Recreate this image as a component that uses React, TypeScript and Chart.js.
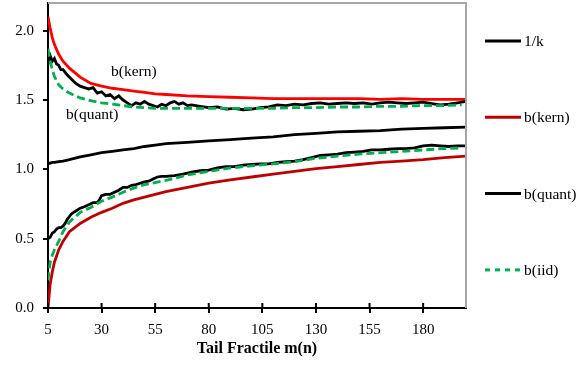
import React, { useEffect, useRef } from "react";
import { Chart, registerables } from "chart.js";

Chart.register(...registerables);

// ---- data ----
const X_TICKS = [5, 30, 55, 80, 105, 130, 155, 180];
const Y_TICKS = [0, 0.5, 1.0, 1.5, 2.0];

const X_SMOOTH = [5, 6, 7, 8, 10, 12, 15, 20, 25, 30, 35, 40, 45, 50, 55, 60, 70, 80, 90, 100, 110, 120, 130, 140, 150, 160, 170, 180, 190, 200];

const INV_K = [1.04, 1.045, 1.05, 1.05, 1.055, 1.06, 1.07, 1.09, 1.105, 1.12, 1.13, 1.14, 1.15, 1.165, 1.175, 1.185, 1.195, 1.205, 1.215, 1.225, 1.235, 1.25, 1.26, 1.27, 1.275, 1.28, 1.29, 1.295, 1.3, 1.305];

const KERN_HI = [2.1, 2.02, 1.95, 1.9, 1.83, 1.78, 1.73, 1.665, 1.62, 1.6, 1.585, 1.575, 1.565, 1.555, 1.545, 1.54, 1.53, 1.525, 1.52, 1.515, 1.51, 1.51, 1.51, 1.51, 1.51, 1.505, 1.51, 1.505, 1.505, 1.505];

const KERN_LO = [0.0, 0.17, 0.26, 0.33, 0.42, 0.48, 0.55, 0.61, 0.655, 0.69, 0.72, 0.755, 0.78, 0.8, 0.82, 0.84, 0.87, 0.9, 0.925, 0.945, 0.965, 0.985, 1.005, 1.02, 1.035, 1.05, 1.06, 1.07, 1.085, 1.095];

const X_QUANT_HI = [5, 6, 7, 8, 9, 10, 11, 12, 14, 16, 18, 20, 22, 24, 26, 28, 30, 32, 34, 36, 38, 40, 42, 44, 46, 48, 50, 52, 54, 56, 58, 60, 62, 64, 66, 68, 70, 72, 76, 80, 84, 88, 92, 96, 100, 104, 108, 112, 116, 120, 124, 128, 132, 136, 140, 144, 148, 152, 156, 160, 164, 168, 172, 176, 180, 184, 188, 192, 196, 200];
const QUANT_HI = [1.76, 1.82, 1.78, 1.8, 1.76, 1.75, 1.72, 1.72, 1.68, 1.65, 1.62, 1.6, 1.59, 1.58, 1.59, 1.55, 1.56, 1.53, 1.54, 1.51, 1.53, 1.5, 1.48, 1.46, 1.48, 1.47, 1.49, 1.47, 1.46, 1.45, 1.47, 1.46, 1.48, 1.49, 1.47, 1.48, 1.46, 1.465, 1.455, 1.445, 1.45, 1.435, 1.44, 1.43, 1.435, 1.445, 1.45, 1.465, 1.46, 1.47, 1.465, 1.475, 1.48, 1.47, 1.475, 1.48, 1.475, 1.48, 1.47, 1.48, 1.485, 1.48, 1.475, 1.48, 1.485, 1.475, 1.465, 1.47, 1.48, 1.49];

const X_QUANT_LO = [5, 6, 7, 8, 9, 10, 11, 12, 13, 14, 15, 16, 17, 18, 20, 22, 24, 26, 28, 29, 30, 32, 34, 36, 38, 40, 42, 44, 46, 48, 50, 52, 54, 56, 58, 60, 64, 68, 72, 76, 80, 84, 88, 92, 96, 100, 104, 108, 112, 116, 120, 124, 128, 132, 136, 140, 144, 148, 152, 156, 160, 164, 168, 172, 176, 180, 184, 188, 192, 196, 200];
const QUANT_LO = [0.5, 0.51, 0.54, 0.55, 0.57, 0.58, 0.58, 0.59, 0.61, 0.64, 0.66, 0.68, 0.69, 0.7, 0.72, 0.73, 0.745, 0.76, 0.76, 0.78, 0.81, 0.82, 0.82, 0.835, 0.85, 0.87, 0.87, 0.885, 0.89, 0.9, 0.91, 0.915, 0.93, 0.945, 0.95, 0.95, 0.955, 0.965, 0.98, 0.99, 0.995, 1.01, 1.02, 1.02, 1.03, 1.035, 1.04, 1.04, 1.05, 1.055, 1.06, 1.07, 1.085, 1.1, 1.105, 1.11, 1.12, 1.125, 1.13, 1.14, 1.14, 1.145, 1.15, 1.15, 1.155, 1.17, 1.175, 1.17, 1.165, 1.17, 1.17];

const X_IID = [5, 6, 7, 8, 10, 12, 15, 20, 25, 30, 35, 40, 45, 50, 55, 60, 70, 80, 90, 100, 110, 120, 130, 140, 150, 160, 170, 180, 190, 198];
const IID_HI = [1.87, 1.78, 1.72, 1.67, 1.61, 1.58, 1.55, 1.515, 1.495, 1.48, 1.47, 1.46, 1.45, 1.445, 1.44, 1.44, 1.44, 1.44, 1.44, 1.44, 1.44, 1.445, 1.445, 1.45, 1.45, 1.455, 1.455, 1.46, 1.46, 1.465];
const IID_LO = [0.2, 0.33, 0.38, 0.42, 0.48, 0.55, 0.62, 0.69, 0.725, 0.77, 0.8, 0.835, 0.865, 0.89, 0.905, 0.92, 0.96, 0.985, 1.01, 1.025, 1.04, 1.055, 1.08, 1.095, 1.11, 1.12, 1.13, 1.14, 1.15, 1.155];

const LEGEND_LABELS = ["1/k", "b(kern)", "b(quant)", "b(iid)"];
const X_TITLE = "Tail Fractile m(n)";

// ---- styles ----
const FONT = "'Liberation Serif', 'Times New Roman', serif";
const BLACK = "#000000";
const RED_HI = "#FF0000";
const RED_LO = "#C00000";
const GREEN = "#00B050";
const DASH = [8, 4];

const LEGEND_STYLES = [
  { color: BLACK, dash: [] as number[] },
  { color: RED_LO, dash: [] as number[] },
  { color: BLACK, dash: [] as number[] },
  { color: GREEN, dash: [5, 5] },
];

const ANNOTATIONS = [
  { text: "b(kern)", x: 34.4, y: 1.67 },
  { text: "b(quant)", x: 13.4, y: 1.365 },
];

const pts = (xs: number[], ys: number[]) => xs.map((x, i) => ({ x, y: ys[i] }));

const decorPlugin = {
  id: "decor",
  afterDraw(chart: any) {
    const { ctx, chartArea, scales } = chart;
    const { left, right, top, bottom } = chartArea;
    ctx.save();
    // gray frame top / right
    ctx.strokeStyle = "#a6a6a6";
    ctx.lineWidth = 2;
    ctx.beginPath();
    ctx.moveTo(left, top);
    ctx.lineTo(right, top);
    ctx.lineTo(right, bottom);
    ctx.stroke();
    // inner x tick marks
    ctx.strokeStyle = BLACK;
    ctx.lineWidth = 2;
    X_TICKS.forEach((v) => {
      const px = scales.x.getPixelForValue(v);
      ctx.beginPath();
      ctx.moveTo(px, bottom);
      ctx.lineTo(px, bottom - 5);
      ctx.stroke();
    });
    // annotations
    ctx.fillStyle = BLACK;
    ctx.font = `15.5px ${FONT}`;
    ctx.textBaseline = "alphabetic";
    ctx.textAlign = "left";
    ANNOTATIONS.forEach((a) => {
      ctx.fillText(a.text, scales.x.getPixelForValue(a.x), scales.y.getPixelForValue(a.y));
    });
    // legend
    const lx = right + 19;
    const ly0 = top + 38;
    const gap = 76.3;
    LEGEND_LABELS.forEach((lab, i) => {
      const y = ly0 + i * gap;
      const st = LEGEND_STYLES[i];
      ctx.strokeStyle = st.color;
      ctx.lineWidth = 3;
      ctx.setLineDash(st.dash);
      ctx.beginPath();
      ctx.moveTo(lx, y);
      ctx.lineTo(lx + 36, y);
      ctx.stroke();
      ctx.setLineDash([]);
      ctx.fillStyle = BLACK;
      ctx.textBaseline = "middle";
      ctx.fillText(lab, lx + 39, y + 1);
    });
    ctx.restore();
  },
};

export default function App() {
  const ref = useRef<HTMLCanvasElement | null>(null);

  useEffect(() => {
    if (!ref.current) return;
    const line = (data: any, color: string, order: number, dash: number[] = []) => ({
      data,
      borderColor: color,
      backgroundColor: color,
      borderWidth: 2.8,
      borderDash: dash,
      pointRadius: 0,
      tension: 0,
      fill: false,
      order,
    });
    const chart = new Chart(ref.current, {
      type: "line",
      data: {
        datasets: [
          { label: "1/k", ...line(pts(X_SMOOTH, INV_K), BLACK, 3) },
          { label: "b(kern) hi", ...line(pts(X_SMOOTH, KERN_HI), RED_HI, 3) },
          { label: "b(kern) lo", ...line(pts(X_SMOOTH, KERN_LO), RED_LO, 3) },
          { label: "b(quant) hi", ...line(pts(X_QUANT_HI, QUANT_HI), BLACK, 2) },
          { label: "b(quant) lo", ...line(pts(X_QUANT_LO, QUANT_LO), BLACK, 2) },
          { label: "b(iid) hi", ...line(pts(X_IID, IID_HI), GREEN, 1, DASH) },
          { label: "b(iid) lo", ...line(pts(X_IID, IID_LO), GREEN, 1, DASH) },
        ] as any,
      },
      options: {
        animation: false,
        responsive: false,
        events: [],
        layout: { padding: { left: 0, right: 113, top: 3, bottom: 0 } },
        plugins: { legend: { display: false }, tooltip: { enabled: false } },
        scales: {
          x: {
            type: "linear",
            min: 5,
            max: 200,
            afterBuildTicks: (s: any) => {
              s.ticks = X_TICKS.map((v) => ({ value: v }));
            },
            afterFit: (s: any) => {
              s.height = 57;
              s.paddingLeft = 0;
              s.paddingRight = 0;
            },
            ticks: {
              color: BLACK,
              font: { family: FONT, size: 15 },
              padding: 8,
              maxRotation: 0,
              autoSkip: false,
            },
            grid: { drawOnChartArea: false, drawTicks: true, tickLength: 5, color: BLACK, lineWidth: 2 },
            border: { display: true, color: BLACK, width: 2 },
            title: {
              display: true,
              text: X_TITLE,
              color: BLACK,
              font: { family: FONT, size: 16, weight: "bold" },
              padding: { top: 0, bottom: 7 },
            },
          },
          y: {
            type: "linear",
            min: 0,
            max: 2.2,
            afterBuildTicks: (s: any) => {
              s.ticks = Y_TICKS.map((v) => ({ value: v }));
            },
            afterFit: (s: any) => {
              s.width = 48;
              s.paddingTop = 0;
              s.paddingBottom = 0;
            },
            ticks: {
              color: BLACK,
              font: { family: FONT, size: 15 },
              padding: 9,
              callback: (v: any) => Number(v).toFixed(1),
            },
            grid: { drawOnChartArea: false, drawTicks: true, tickLength: 5, color: BLACK, lineWidth: 2 },
            border: { display: true, color: BLACK, width: 2 },
          },
        },
      } as any,
      plugins: [decorPlugin],
    });
    return () => chart.destroy();
  }, []);

  return (
    <div style={{ position: "fixed", left: 0, top: 0, width: 579, height: 365, background: "#fff" }}>
      <canvas ref={ref} width={579} height={365} style={{ width: 579, height: 365, display: "block" }} />
    </div>
  );
}
